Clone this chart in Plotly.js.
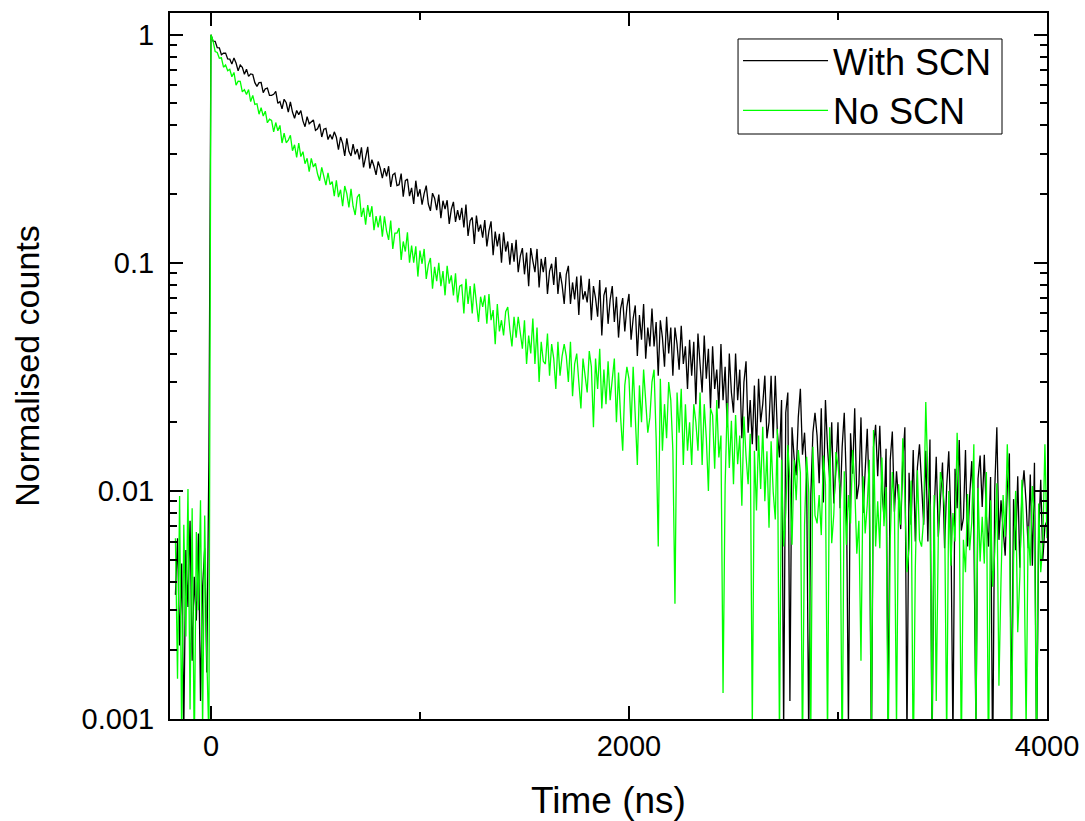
<!DOCTYPE html>
<html>
<head>
<meta charset="utf-8">
<script src="https://cdn.plot.ly/plotly-3.0.1.min.js"></script>
<style>html,body{margin:0;padding:0;background:#fff;}#chart{width:1085px;height:821px;}</style>
</head>
<body>
<div id="chart"></div>
<script>
// Time grid of the decay traces (ns): first sample and sampling step
const timeStart = -170;
const timeStep = 10;

// Normalised counts, "With SCN" (t = -170 ... 4000 ns)
const withSCN = [
.0035,.0062,.0021,.0048,.0009,.0055,.0031,.0074,.0018,.0042,.0027,.0065,.0012,.0038,.0056,.0016,.0135,
1,.936,.935,.877,.875,.817,.829,.830,.783,.781,
.743,.791,.751,.694,.736,.719,.671,.706,.656,.673,
.669,.616,.593,.616,.617,.557,.579,.583,.542,.542,
.548,.564,.500,.509,.473,.521,.503,.458,.508,.458,
.430,.465,.446,.465,.419,.395,.437,.407,.416,.423,
.381,.387,.407,.356,.385,.388,.347,.365,.348,.375,
.355,.313,.356,.334,.294,.351,.308,.294,.331,.299,
.315,.284,.321,.262,.290,.322,.259,.283,.265,.243,
.278,.260,.235,.260,.239,.265,.215,.243,.247,.218,
.220,.246,.195,.229,.233,.196,.213,.181,.229,.195,
.210,.180,.201,.218,.181,.169,.202,.192,.170,.199,
.157,.187,.172,.188,.148,.172,.185,.151,.170,.154,
.174,.143,.180,.131,.153,.158,.121,.161,.137,.147,
.129,.154,.118,.138,.152,.108,.137,.118,.134,.100,
.136,.112,.124,.098,.122,.101,.126,.091,.107,.116,
.089,.111,.079,.116,.102,.091,.115,.078,.104,.091,
.106,.073,.092,.099,.080,.106,.073,.091,.080,.066,
.089,.097,.066,.082,.069,.087,.059,.088,.069,.075,
.067,.085,.056,.079,.070,.058,.084,.048,.072,.078,
.054,.069,.079,.055,.071,.047,.063,.070,.050,.064,
.073,.046,.057,.065,.039,.059,.046,.066,.038,.052,
.043,.063,.043,.055,.032,.056,.047,.035,.058,.040,
.052,.032,.052,.044,.034,.053,.036,.043,.028,.046,
.032,.045,.024,.049,.036,.027,.048,.031,.042,.023,
.043,.028,.034,.023,.044,.025,.035,.019,.040,.027,
.022,.040,.025,.034,.017,.030,.037,.018,.025,.016,
.029,.015,.031,.020,.024,.032,.017,.020,.032,.017,
.032,.018,.014,.025,.0009,.022,.027,.0012,.019,.014,
.0117,.021,.028,.0144,.018,.0115,.0008,.0096,.018,.022,
.0174,.0108,.023,.0089,.025,.0154,.0114,.020,.0088,.0123,
.020,.0084,.0156,.022,.0109,.0009,.0179,.0119,.023,.0092,
.0107,.021,.0080,.0134,.0187,.0093,.0007,.0156,.0195,.0116,
.0193,.0102,.0077,.0153,.0010,.0137,.0182,.0081,.0122,.0091,
.0068,.0135,.019,.0008,.0120,.0071,.0151,.0060,.0127,.0160,
.0112,.0071,.0150,.0060,.0168,.0007,.0079,.0141,.0063,.0089,
.0133,.0056,.0105,.0149,.0075,.0008,.0125,.0084,.0167,.0067,
.0076,.0151,.0057,.0095,.0135,.0068,.0009,.0113,.0143,.0085,
.0144,.0077,.0057,.0115,.0006,.0102,.0190,.0061,.0091,.0068,
.0052,.0103,.0146,.0009,.0092,.0055,.0116,.0046,.0098,.0123,
.0089,.0056,.0118,.0047,.0133,.0007,.0063,.0112,.0050,.0070,
.0074
];

// Normalised counts, "No SCN" (t = -170 ... 4000 ns)
const noSCN = [
.0062,.0015,.0095,.0008,.0071,.0023,.0102,.0011,.0084,.0007,.0066,.0030,.0091,.0009,.0078,.0019,.0008,
1,.939,.844,.836,.789,.792,.720,.736,.695,.705,
.654,.683,.601,.625,.624,.561,.574,.546,.575,.509,
.542,.495,.498,.448,.479,.440,.462,.411,.426,.421,
.375,.412,.379,.400,.335,.370,.336,.345,.362,.310,
.329,.290,.335,.292,.307,.272,.287,.251,.287,.263,
.273,.245,.229,.262,.241,.219,.248,.220,.227,.196,
.230,.194,.209,.177,.217,.201,.175,.211,.177,.162,
.194,.200,.159,.174,.147,.179,.159,.177,.139,.160,
.143,.161,.130,.160,.138,.126,.153,.115,.135,.135,
.142,.103,.124,.112,.136,.100,.119,.100,.118,.087,
.113,.099,.115,.085,.098,.105,.077,.096,.083,.100,
.079,.092,.072,.097,.081,.088,.072,.090,.067,.079,
.080,.060,.085,.066,.079,.060,.081,.064,.055,.071,
.064,.072,.054,.073,.056,.062,.044,.066,.050,.056,
.048,.061,.064,.051,.043,.058,.047,.058,.050,.042,
.056,.036,.048,.040,.057,.036,.052,.030,.045,.037,
.036,.049,.032,.044,.038,.028,.045,.032,.039,.044,
.039,.030,.045,.026,.036,.040,.030,.023,.038,.031,
.027,.041,.035,.019,.038,.028,.042,.023,.034,.024,
.037,.025,.030,.038,.020,.033,.021,.015,.029,.035,
.031,.019,.035,.023,.013,.029,.020,.034,.025,.018,
.021,.030,.034,.017,.0057,.031,.015,.024,.017,.030,
.025,.015,.0032,.027,.018,.028,.013,.024,.015,.020,
.013,.024,.020,.015,.027,.013,.024,.017,.010,.023,
.0215,.0125,.025,.0140,.0175,.0013,.0106,.0243,.0126,.0203,
.0107,.0215,.0131,.0175,.0086,.0212,.0142,.0107,.0178,.0009,
.0150,.0082,.0175,.0102,.0191,.0090,.0149,.0069,.0165,.0099,
.0075,.0187,.0008,.0137,.0057,.0080,.0159,.0111,.0058,.0137,
.0091,.0151,.0120,.0007,.0071,.0141,.0099,.0009,.0156,.0078,
.0072,.0096,.0064,.0143,.0107,.0008,.0190,.0059,.0079,.0148,
.0130,.0103,.0006,.0122,.0058,.0096,.0072,.0151,.0107,.0053,
.0074,.0018,.0116,.0065,.0087,.0137,.0008,.0185,.0057,.0090,
.0056,.0140,.0070,.0104,.0007,.0061,.0121,.0085,.0009,.0107,
.0071,.0170,.0094,.0044,.0056,.0111,.0006,.0046,.0123,.0061,
.0057,.0076,.0245,.0114,.0086,.0009,.0096,.0012,.0064,.0121,
.0106,.0084,.0008,.0100,.0047,.0080,.0060,.0180,.0089,.0007,
.0061,.0044,.0097,.0055,.0073,.0160,.0009,.0103,.0049,.0077,
.0048,.0121,.0006,.0091,.0038,.0054,.0108,.0014,.0041,.0096,
.0063,.0160,.0084,.0008,.0050,.0100,.0024,.0042,.0112,.0056,
.0009,.0070,.0047,.0105,.0078,.0007,.0088,.0044,.0059,.0160,
.0062
];

const seriesNames = ['With SCN', 'No SCN'];
const xTickVals = [0, 2000, 4000];
const xTickText = ['0', '2000', '4000'];
const xMinorVals = [1000, 3000];
const yTickVals = [0.001, 0.01, 0.1, 1];
const yTickText = ['0.001', '0.01', '0.1', '1'];
const yMinorVals = [];
[0.001, 0.01, 0.1].forEach(d => { for (let k = 2; k <= 9; k++) yMinorVals.push(+(k * d).toPrecision(3)); });

const FONT = '"Liberation Sans", Arial, Helvetica, sans-serif';

const traces = [
  {type: 'scatter', mode: 'lines', name: seriesNames[0], x0: timeStart, dx: timeStep, y: withSCN,
   line: {color: '#000000', width: 1.3}},
  {type: 'scatter', mode: 'lines', name: seriesNames[1], x0: timeStart, dx: timeStep, y: noSCN,
   line: {color: '#00ff00', width: 1.3}}
];

const axisCommon = {
  showgrid: false, zeroline: false, showline: true, linecolor: '#000', linewidth: 2,
  mirror: 'ticks', ticks: 'inside', ticklen: 13, tickwidth: 2, tickcolor: '#000',
  tickfont: {family: FONT, size: 29, color: '#000'}
};

const layout = {
  width: 1085, height: 821,
  margin: {l: 170, r: 38, t: 13, b: 102, pad: 0},
  paper_bgcolor: '#fff', plot_bgcolor: '#fff',
  font: {family: FONT, color: '#000'},
  showlegend: true,
  legend: {x: 0.6477, y: 0.975, xanchor: 'left', yanchor: 'top', bgcolor: 'rgba(0,0,0,0)',
           borderwidth: 0, font: {family: FONT, size: 36, color: '#000'},
           itemwidth: 85, tracegroupgap: 0},
  shapes: [
    {type: 'rect', xref: 'paper', yref: 'paper', x0: 0.6477, x1: 0.9487, y0: 0.8286, y1: 0.9632,
     line: {color: '#000', width: 1}, fillcolor: 'rgba(0,0,0,0)', layer: 'above'}
  ],
  xaxis: Object.assign({}, axisCommon, {
    range: [-196, 4000], tickmode: 'array', tickvals: xTickVals, ticktext: xTickText,
    minor: {tickmode: 'array', tickvals: xMinorVals, ticks: 'inside', ticklen: 7, tickwidth: 2, tickcolor: '#000'},
    title: {text: 'Time (ns)', font: {family: FONT, size: 37, color: '#000'}, standoff: 26}
  }),
  yaxis: Object.assign({}, axisCommon, {
    type: 'log', range: [-3, 0.095], tickmode: 'array', tickvals: yTickVals, ticktext: yTickText,
    ticklabelstandoff: 8,
    minor: {tickmode: 'array', tickvals: yMinorVals, ticks: 'inside', ticklen: 7, tickwidth: 2, tickcolor: '#000'},
    title: {text: 'Normalised counts', font: {family: FONT, size: 34, color: '#000'}, standoff: 32}
  })
};

Plotly.newPlot('chart', traces, layout, {displayModeBar: false, staticPlot: true});
</script>
</body>
</html>
